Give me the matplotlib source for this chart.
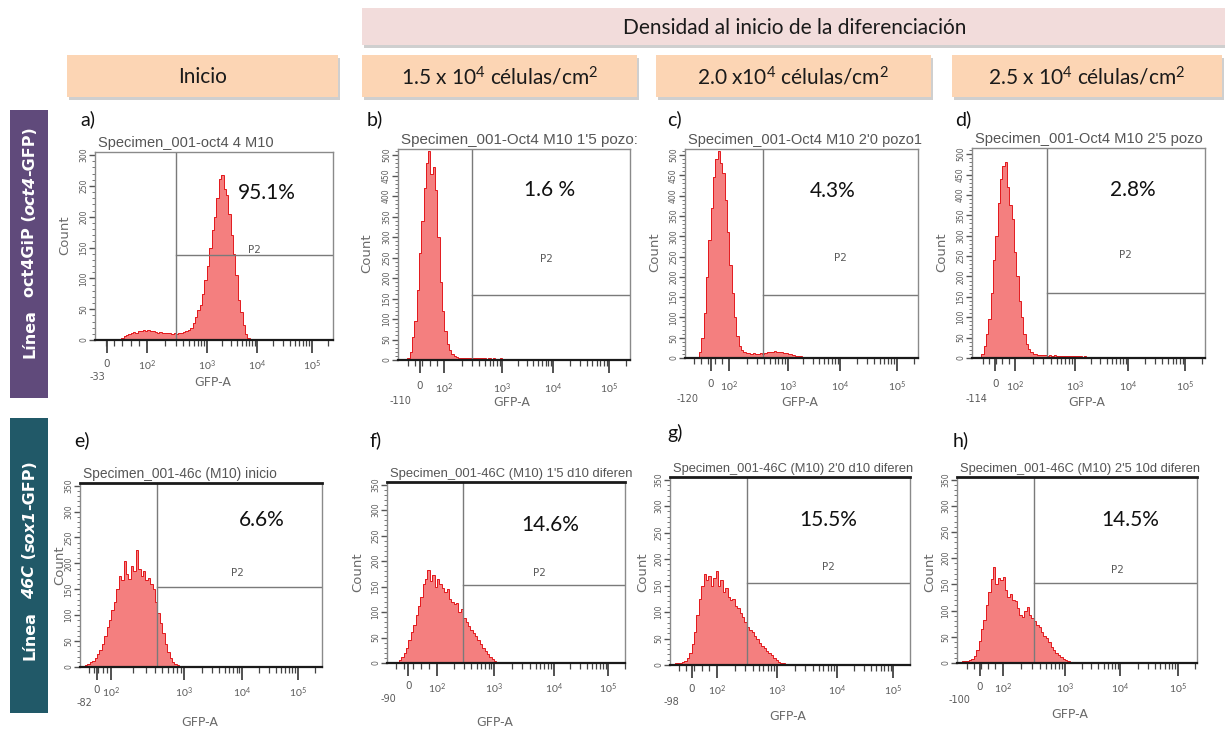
import numpy as np
import matplotlib
matplotlib.use("agg")
import matplotlib.pyplot as plt
from matplotlib.patches import Rectangle

plt.rcParams['mathtext.fontset'] = 'custom'
plt.rcParams['mathtext.rm'] = 'Lato'
plt.rcParams['mathtext.it'] = 'Lato:italic'
plt.rcParams['mathtext.bf'] = 'Lato:bold'

# ---------------- data ----------------
HEADER_TOP = "Densidad al inicio de la diferenciación"
HEADER_COLS = ["Inicio",
               "1.5 x 10$^4$ células/cm$^2$",
               "2.0 x10$^4$ células/cm$^2$",
               "2.5 x 10$^4$ células/cm$^2$"]
ROW_LABELS = [[("Línea", "normal"), (None, 12), ("oct4GiP (", "normal"), ("oct4", "italic"), ("-GFP)", "normal")],
              [("Línea", "normal"), (None, 12), ("46C", "italic"), (" (", "normal"), ("sox1", "italic"), ("-GFP)", "normal")]]

LETTERS = ["a)", "b)", "c)", "d)", "e)", "f)", "g)", "h)"]
SPECIMENS = ["Specimen_001-oct4 4 M10",
             "Specimen_001-Oct4 M10 1'5 pozo:",
             "Specimen_001-Oct4 M10 2'0 pozo1",
             "Specimen_001-Oct4 M10 2'5 pozo",
             "Specimen_001-46c (M10) inicio",
             "Specimen_001-46C (M10) 1'5 d10 diferen",
             "Specimen_001-46C (M10) 2'0 d10 diferen",
             "Specimen_001-46C (M10) 2'5 10d diferen"]
PERCENT_P2 = ["95.1%", "1.6 %", "4.3%", "2.8%", "6.6%", "14.6%", "15.5%", "14.5%"]
NEG_MIN = ["-33", "-110", "-120", "-114", "-82", "-90", "-98", "-100"]
DECADE_LABELS = ["0", "$10^2$", "$10^3$", "$10^4$", "$10^5$"]
# display position (0-100) of: min, 0, 10^2, 10^3, 10^4, 10^5
SCALE_POS = [[1, 5, 22, 47, 68, 91],
             [1, 9.5, 20, 45, 67, 91],
             [1, 11, 19, 44, 66.5, 91],
             [2, 10, 18.5, 44, 67, 91.5],
             [2, 7, 13, 43, 67, 90],
             [0.5, 9, 21, 45, 70, 93],
             [0.5, 9, 19.5, 44.5, 69.5, 93],
             [1, 9.5, 19, 45, 68, 92]]
COUNT_MAX = [305, 515, 515, 515, 355, 355, 355, 355]
GATE_X = [34, 32, 33.5, 32, 32, 32, 32, 32]
GATE_Y = [138, 159, 155, 159, 154, 153, 155, 153]

# histograms: first bin position (display units) and counts per 1-unit bin
HIST_START = [10, 4, 5, 3, 1, 4, 1, 1]
hist_a = [2, 4, 6, 8, 10, 11, 13, 12, 14, 15, 16, 15, 16, 14, 15, 13, 12, 13, 12, 11,
          12, 11, 10, 11, 10, 11, 12, 13, 15, 17, 20, 28, 38, 48, 56, 75, 98, 120, 150, 178,
          200, 230, 262, 268, 245, 235, 205, 170, 140, 105, 65, 45, 25, 10, 4]
hist_b = [5, 20, 55, 95, 170, 260, 340, 420, 480, 510, 455, 470, 415, 300, 190, 120, 70, 40, 25, 14,
          9, 7, 6, 5, 6, 5, 4, 5, 4, 5, 4, 4, 5, 4, 3, 4, 3, 4, 3, 3,
          4, 3, 3, 2, 3, 2, 2, 1]
hist_c = [0, 15, 50, 110, 200, 290, 370, 445, 490, 510, 480, 455, 390, 310, 230, 160, 100, 55, 30, 20,
          15, 13, 12, 11, 12, 10, 11, 12, 11, 13, 14, 15, 16, 17, 16, 15, 14, 13, 12, 10,
          9, 8, 6, 5, 4, 3, 2]
hist_d = [0, 10, 30, 60, 95, 160, 240, 300, 380, 440, 470, 480, 420, 375, 340, 260, 200, 140, 100, 60,
          35, 22, 15, 11, 9, 8, 7, 8, 7, 6, 7, 6, 7, 6, 6, 5, 6, 5, 5, 6,
          5, 4, 5, 4, 3, 4, 3, 2, 1]
hist_e = [0, 3, 6, 9, 12, 18, 25, 33, 45, 60, 77, 90, 110, 125, 150, 175, 168, 205, 180, 170,
          195, 185, 225, 190, 175, 185, 168, 172, 160, 150, 125, 105, 85, 65, 45, 28, 18, 10, 5, 3]
hist_f = [0, 5, 12, 20, 30, 45, 60, 75, 95, 112, 130, 155, 165, 182, 160, 172, 150, 165, 155, 148,
          140, 145, 125, 120, 115, 118, 100, 105, 88, 80, 72, 65, 58, 52, 45, 38, 30, 24, 18, 12,
          7, 4, 2]
hist_g = [2, 3, 3, 4, 5, 8, 14, 22, 40, 62, 95, 125, 150, 172, 160, 168, 150, 165, 178, 150,
          160, 138, 145, 128, 122, 125, 112, 108, 98, 90, 82, 72, 66, 62, 55, 50, 42, 36, 32, 27,
          23, 18, 13, 9, 6, 4, 3, 2]
hist_h = [2, 3, 3, 4, 5, 8, 14, 25, 42, 65, 82, 110, 135, 160, 183, 150, 162, 158, 165, 140,
          126, 132, 120, 118, 105, 92, 88, 100, 107, 92, 85, 80, 72, 68, 60, 52, 48, 40, 31, 25,
          20, 15, 11, 7, 5, 3, 2, 1]
HISTS = [hist_a, hist_b, hist_c, hist_d, hist_e, hist_f, hist_g, hist_h]

# ---------------- layout (pixels in a 1225 x 731 canvas) ----------------
W, H = 1225, 731
fig = plt.figure(figsize=(W / 100, H / 100), dpi=100)
renderer = fig.canvas.get_renderer()

# plot frames: left, top, right, baseline
FRAMES = [(95, 152, 333, 340), (398, 149, 630, 360), (685, 149, 918, 358), (972, 148, 1205, 358),
          (80, 483, 322, 667), (387, 482, 625, 663), (670, 477, 910, 665), (957, 477, 1197, 663)]
LETTER_XY = [(80, 119), (367, 119), (667, 119), (955, 119), (74, 440), (369, 440), (667, 433), (953, 440)]
COUNT_XY = [(65, 235), (367, 253), (655, 252), (942, 252), (60, 565), (358, 572), (643, 572), (930, 572)]
GFP_XY = [(213, 382), (512, 402), (800, 402), (1087, 402), (200, 722), (495, 722), (788, 717), (1070, 715)]
PCT_POS = [(72, 78), (65.5, 80.5), (63.5, 80), (69, 80), (75, 80), (68.5, 76), (66, 77), (72, 77)]
P2_POS = [(67, 48), (64, 48), (66.5, 48), (66, 49), (65, 51), (64, 50), (66, 52), (67, 50)]
TITLE_W = [175, 237, 235, 228, 194, 243, 240, 240]

FILL = '#f47f7f'
EDGE = '#e3181c'
GREY = '#5a5a5a'


def fx(x):
    return x / W


def fy(y):
    return 1 - y / H


def box(x0, y0, x1, y1, color, shadow=True):
    if shadow:
        fig.patches.append(Rectangle((fx(x0 + 2), fy(y1 + 3)), (x1 - x0) / W, (y1 - y0) / H,
                                     transform=fig.transFigure, color='#b0b0b0', alpha=0.6, lw=0))
    fig.patches.append(Rectangle((fx(x0), fy(y1)), (x1 - x0) / W, (y1 - y0) / H,
                                 transform=fig.transFigure, color=color, lw=0))


# header boxes
box(362, 8, 1225, 45, '#f2dcdb')
fig.text(fx(795), fy(28), HEADER_TOP, ha='center', va='center', fontsize=15, family='Lato', color='#1a1a1a')
COL_BOXES = [(67, 338), (362, 637), (656, 931), (952, 1222)]
for (x0, x1), label in zip(COL_BOXES, HEADER_COLS):
    box(x0, 55, x1, 97, '#fcd5b4')
    fig.text(fx((x0 + x1) / 2), fy(77), label, ha='center', va='center', fontsize=15,
             family='Lato', color='#1a1a1a')

# row labels
ROW_BOXES = [((10, 110, 48, 398), '#604a7b', 242), ((10, 418, 48, 713), '#215968', 560)]
for ((x0, y0, x1, y1), color, yc), runs in zip(ROW_BOXES, ROW_LABELS):
    box(x0, y0, x1, y1, color, shadow=False)
    pieces = []
    total = 0
    for txt, style in runs:
        if txt is None:
            pieces.append((None, style))
            total += style
            continue
        t = fig.text(0, 0, txt, rotation=90, rotation_mode='anchor', ha='left', va='center',
                     color='white', fontsize=11.5, fontweight='bold', fontstyle=style, family='DejaVu Sans')
        h = t.get_window_extent(renderer).height
        pieces.append((t, h))
        total += h
    y = yc + total / 2
    for t, h in pieces:
        if t is not None:
            t.set_position((fx((x0 + x1) / 2 + 1), fy(y)))
        y -= h


def minor_positions(pos):
    out = []
    m = np.log10(np.arange(2, 10))
    for p0, p1 in zip(pos[2:-1], pos[3:]):
        out.extend(p0 + (p1 - p0) * m)
    step = pos[5] - pos[4]
    out.extend(p for p in pos[5] + step * m if p < 100)
    out.extend(np.linspace(pos[0], pos[2], 7)[1:-1])
    return out


for i in range(8):
    left, top, right, base = FRAMES[i]
    ax = fig.add_axes([fx(left), fy(base), (right - left) / W, (base - top) / H])
    row2 = i >= 4
    counts = HISTS[i]
    edges = HIST_START[i] + np.arange(len(counts) + 1)
    ax.stairs(counts, edges, fill=True, color=FILL, lw=0)
    ax.stairs(counts, edges, color=EDGE, lw=0.7)

    ax.set_xlim(0, 100)
    ax.set_ylim(0, COUNT_MAX[i])

    # gate P2
    gx = GATE_X[i]
    ax.axvline(gx, color='#7a7a7a', lw=1)
    ax.plot([gx, 100], [GATE_Y[i], GATE_Y[i]], color='#7a7a7a', lw=1)
    ax.text(P2_POS[i][0] / 100, P2_POS[i][1] / 100, "P2", transform=ax.transAxes, ha='center',
            va='center', fontsize=7.5, color=GREY, family='DejaVu Sans')
    ax.text(PCT_POS[i][0] / 100, PCT_POS[i][1] / 100, PERCENT_P2[i], transform=ax.transAxes,
            ha='center', va='center', fontsize=15, color='#111111', family='Lato')

    # spines
    for s in ['left', 'right', 'top']:
        ax.spines[s].set_color('#8a8a8a')
        ax.spines[s].set_linewidth(1)
    if row2:
        ax.spines['top'].set_color('#1a1a1a')
        ax.spines['top'].set_linewidth(2)
    ax.spines['bottom'].set_color('#1a1a1a')
    ax.spines['bottom'].set_linewidth(1.6)

    # x axis (biexponential display)
    pos = SCALE_POS[i]
    ax.set_xticks(pos[1:], labels=[])
    ax.set_xticks(minor_positions(pos), minor=True)
    ax.tick_params(axis='x', which='major', length=9, width=1.2, color='#333333', direction='out')
    ax.tick_params(axis='x', which='minor', length=4, width=0.9, color='#444444', direction='out')
    xt = ax.get_xaxis_transform()
    for p, lab in zip(pos[1:], DECADE_LABELS):
        ax.text(p, -0.1, lab, transform=xt, ha='center', va='top', fontsize=7.5, color=GREY)
    ax.text(pos[0], -0.17, NEG_MIN[i], transform=xt, ha='center', va='top', fontsize=7, color=GREY)

    # y axis
    ax.set_yticks(np.arange(0, COUNT_MAX[i], 50))
    ax.set_yticks(np.arange(0, COUNT_MAX[i], 10), minor=True)
    ax.tick_params(axis='y', which='major', length=4, width=1, color='#555555', labelsize=5.5,
                   labelcolor=GREY, pad=1)
    ax.tick_params(axis='y', which='minor', length=2, width=0.7, color='#777777')
    for lab in ax.get_yticklabels():
        lab.set_rotation(90)
        lab.set_va('center')

    # texts around the plot
    lx, ly = LETTER_XY[i]
    fig.text(fx(lx), fy(ly), LETTERS[i], ha='left', va='center', fontsize=14, family='Lato', color='#111111')
    cx, cy = COUNT_XY[i]
    fig.text(fx(cx), fy(cy), "Count", rotation=90, ha='center', va='center', fontsize=9.5, color='#6a6a6a')
    gx_, gy_ = GFP_XY[i]
    fig.text(fx(gx_), fy(gy_), "GFP-A", ha='center', va='center', fontsize=9, color='#6a6a6a')
    tt = fig.text(fx(left + 3), fy(top - 2), SPECIMENS[i], ha='left', va='bottom', fontsize=8,
                  color='#555555', family='Liberation Sans')
    wpx = tt.get_window_extent(renderer).width
    tt.set_fontsize(8 * TITLE_W[i] / wpx)

fig.savefig("out.png", dpi=100)
